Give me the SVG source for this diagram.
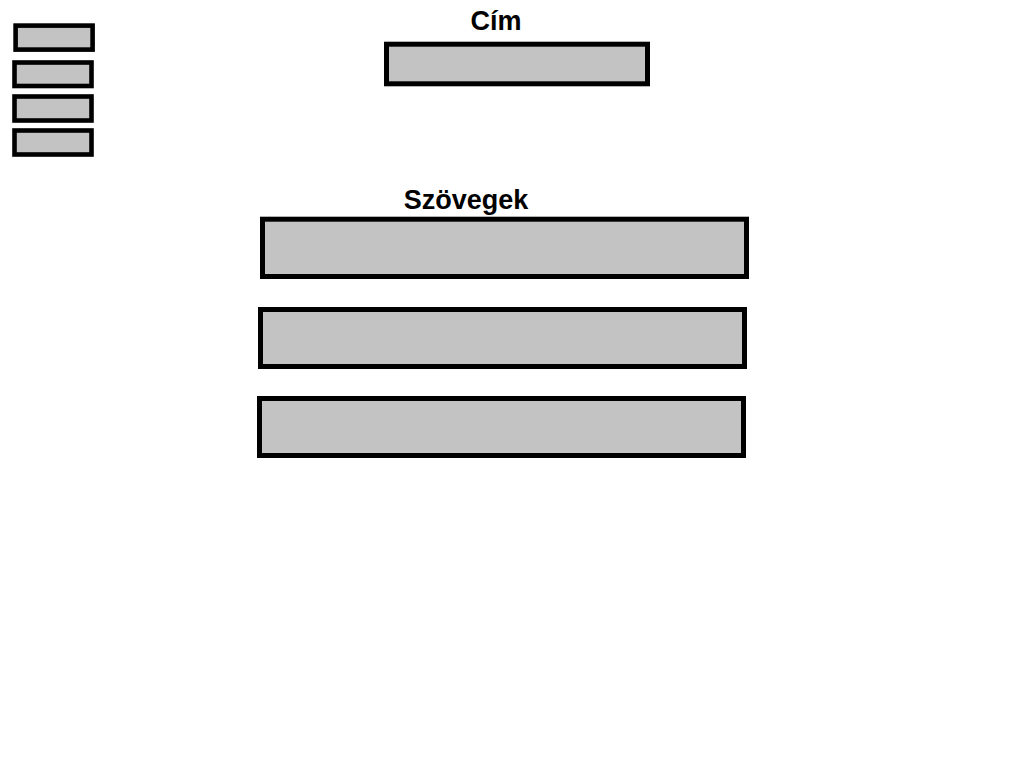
<svg xmlns="http://www.w3.org/2000/svg" width="1019" height="779" viewBox="0 0 1019 779">
<style>
.box{fill:#c3c3c3;stroke:#000;stroke-width:5}
.sm{fill:#c3c3c3;stroke:#000;stroke-width:4.6}
.lbl{font-family:"Liberation Sans",Arial,sans-serif;font-weight:bold;font-size:27px;fill:#000;text-anchor:middle}
</style>
<rect width="1019" height="779" fill="#fff"/>
<g id="menu1"><rect class="sm" x="15.6" y="25.6" width="77" height="24"/></g>
<g id="menu2"><rect class="sm" x="14.5" y="62.5" width="77" height="23.5"/></g>
<g id="menu3"><rect class="sm" x="14.5" y="96.5" width="77" height="24"/></g>
<g id="menu4"><rect class="sm" x="14.5" y="130.5" width="77" height="24"/></g>
<g id="cim">
<text class="lbl" x="496" y="29.5">Cím</text>
<rect class="box" x="386.5" y="44.2" width="261" height="39.6"/>
</g>
<g id="szovegek">
<text class="lbl" x="466" y="208.5">Szövegek</text>
<rect class="box" x="262.5" y="219.2" width="484" height="57.3"/>
</g>
<g id="szoveg2"><rect class="box" x="260.5" y="309.5" width="484" height="57"/></g>
<g id="szoveg3"><rect class="box" x="259.5" y="398.5" width="484" height="57"/></g>
<g id="connectors"></g>
</svg>
